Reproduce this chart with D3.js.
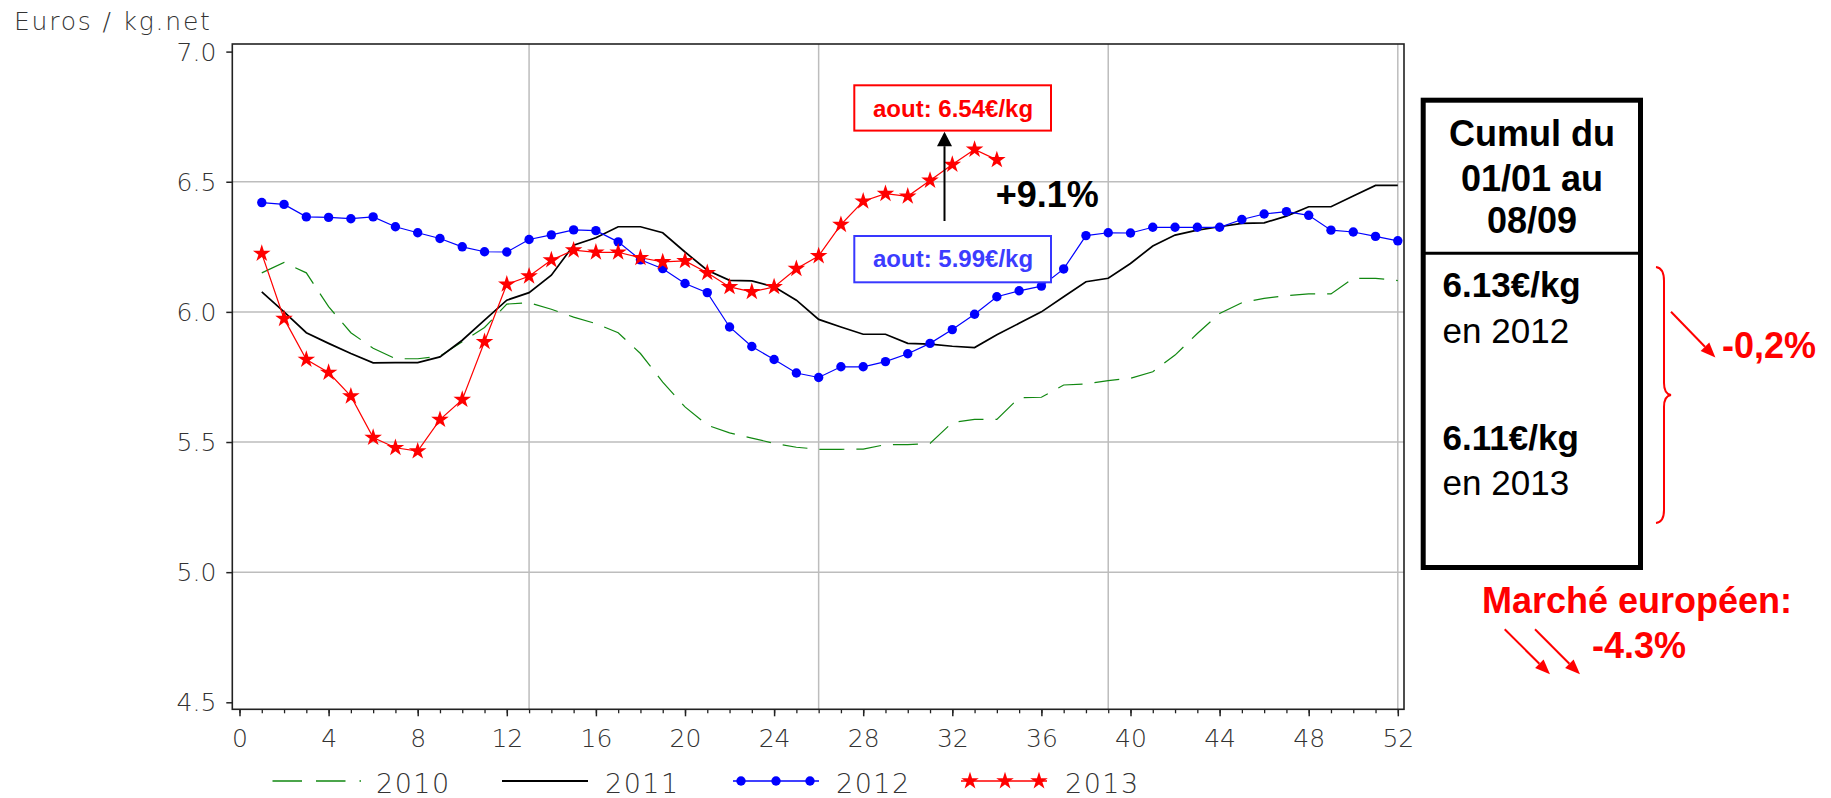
<!DOCTYPE html>
<html>
<head>
<meta charset="utf-8">
<script src="https://cdn.jsdelivr.net/npm/d3@7"></script>
<style>
  body { margin: 0; background: #fff; }
  svg { display: block; }
  .thin { font-family: "DejaVu Sans", sans-serif; font-weight: 200; fill: #333; }
  .arial { font-family: "Liberation Sans", Arial, sans-serif; }
</style>
</head>
<body>
<svg id="chart" width="1831" height="798"></svg>
<script>
// week numbers (x categories)
const weeks = d3.range(1, 53);

// weekly prices, euros / kg net
const y2010 = [6.15, 6.19, 6.15, 6.02, 5.92, 5.86, 5.82, 5.82, 5.83, 5.885,
  5.94, 6.03, 6.035, 6.01, 5.98, 5.955, 5.92, 5.84, 5.73, 5.635,
  5.565, 5.535, 5.515, 5.495, 5.48, 5.472, 5.472, 5.473, 5.49, 5.49,
  5.495, 5.575, 5.587, 5.587, 5.67, 5.672, 5.719, 5.723, 5.736, 5.745,
  5.77, 5.834, 5.917, 5.994, 6.035, 6.052, 6.062, 6.069, 6.069, 6.129,
  6.129, 6.12];
const y2011 = [6.077, 6.0, 5.92, 5.879, 5.84, 5.804, 5.805, 5.805, 5.827, 5.891,
  5.968, 6.045, 6.074, 6.141, 6.256, 6.285, 6.327, 6.327, 6.304, 6.23,
  6.16, 6.121, 6.119, 6.096, 6.045, 5.971, 5.942, 5.914, 5.914, 5.879,
  5.876, 5.868, 5.863, 5.912, 5.956, 6.0, 6.058, 6.116, 6.129, 6.186,
  6.253, 6.295, 6.314, 6.327, 6.34, 6.342, 6.368, 6.404, 6.404, 6.445,
  6.486, 6.486];
const y2012 = [6.42, 6.413, 6.365, 6.363, 6.358, 6.365, 6.327, 6.304, 6.282, 6.25,
  6.231, 6.23, 6.278, 6.296, 6.315, 6.312, 6.269, 6.2, 6.166, 6.109,
  6.074, 5.942, 5.867, 5.817, 5.765, 5.748, 5.789, 5.789, 5.809, 5.839,
  5.879, 5.932, 5.991, 6.058, 6.081, 6.099, 6.165, 6.293, 6.304, 6.303,
  6.325, 6.325, 6.325, 6.325, 6.355, 6.376, 6.385, 6.371, 6.314, 6.307,
  6.29, 6.273];
const y2013 = [6.224, 5.974, 5.817, 5.767, 5.676, 5.517, 5.478, 5.465, 5.586, 5.663,
  5.885, 6.106, 6.137, 6.199, 6.237, 6.229, 6.229, 6.208, 6.192, 6.196,
  6.15, 6.096, 6.077, 6.096, 6.166, 6.215, 6.335, 6.425, 6.454, 6.444,
  6.505, 6.566, 6.624, 6.584];

const seriesNames = ["2010", "2011", "2012", "2013"];

// axis ticks
const yTicks = [4.5, 5.0, 5.5, 6.0, 6.5, 7.0];
const yGrid = [5.0, 5.5, 6.0, 6.5];
const xTicks = [0, 4, 8, 12, 16, 20, 24, 28, 32, 36, 40, 44, 48, 52];
const xGrid = [13, 26, 39, 52];

const svg = d3.select("#chart");

// plot frame in pixels
const plotLeft = 232.3, plotRight = 1404, plotTop = 44, plotBottom = 709.3;

const x = d3.scaleLinear().domain([0, 52]).range([239.5, 1397.8]);
const y = d3.scaleLinear().domain([4.5, 7.0]).range([702.3, 51.6]);

// grid
const grid = svg.append("g").attr("stroke", "#bdbdbd").attr("stroke-width", 1.5);
grid.selectAll(".gy").data(yGrid).join("line").attr("class", "gy")
  .attr("x1", plotLeft).attr("x2", plotRight)
  .attr("y1", d => y(d)).attr("y2", d => y(d));
grid.selectAll(".gx").data(xGrid).join("line").attr("class", "gx")
  .attr("y1", plotTop).attr("y2", plotBottom)
  .attr("x1", d => x(d)).attr("x2", d => x(d));

// frame
svg.append("rect")
  .attr("x", plotLeft).attr("y", plotTop)
  .attr("width", plotRight - plotLeft).attr("height", plotBottom - plotTop)
  .attr("fill", "none").attr("stroke", "#222").attr("stroke-width", 1.6);

// y axis
const yAxis = svg.append("g")
  .attr("transform", `translate(${plotLeft},0)`)
  .call(d3.axisLeft(y).tickValues(yTicks).tickFormat(d3.format(".1f")).tickSize(6).tickPadding(10));
yAxis.select(".domain").remove();
yAxis.selectAll("line").attr("stroke", "#222").attr("stroke-width", 1.5);
yAxis.selectAll("text").attr("class", "thin").attr("font-size", 25).attr("dy", "0.34em");

// x axis: minor ticks each week, labelled ticks each 4 weeks
const xMinor = svg.append("g")
  .attr("transform", `translate(0,${plotBottom})`)
  .call(d3.axisBottom(x).tickValues(weeks.concat([0])).tickFormat("").tickSize(4));
xMinor.select(".domain").remove();
xMinor.selectAll("line").attr("stroke", "#222").attr("stroke-width", 1.3);

const xAxis = svg.append("g")
  .attr("transform", `translate(0,${plotBottom})`)
  .call(d3.axisBottom(x).tickValues(xTicks).tickFormat(d3.format("d")).tickSize(7).tickPadding(13));
xAxis.select(".domain").remove();
xAxis.selectAll("line").attr("stroke", "#222").attr("stroke-width", 1.5);
xAxis.selectAll("text").attr("class", "thin").attr("font-size", 25);

// y axis title
svg.append("text").attr("class", "thin")
  .attr("x", 14).attr("y", 30)
  .attr("font-size", 25).attr("letter-spacing", 1.8)
  .text("Euros / kg.net");

// lines
const line = d3.line().x((d, i) => x(weeks[i])).y(d => y(d));

svg.append("path").datum(y2010)
  .attr("fill", "none").attr("stroke", "#118811").attr("stroke-width", 1.2)
  .attr("stroke-dasharray", "25,12").attr("d", line);

svg.append("path").datum(y2011)
  .attr("fill", "none").attr("stroke", "#000").attr("stroke-width", 1.7)
  .attr("d", line);

svg.append("path").datum(y2012)
  .attr("fill", "none").attr("stroke", "#0000ff").attr("stroke-width", 1.2)
  .attr("d", line);
svg.append("g").selectAll("circle").data(y2012).join("circle")
  .attr("cx", (d, i) => x(weeks[i])).attr("cy", d => y(d))
  .attr("r", 4.7).attr("fill", "#0000ff");

const star = d3.symbol().type(d3.symbolStar).size(96);

svg.append("path").datum(y2013)
  .attr("fill", "none").attr("stroke", "#ff0000").attr("stroke-width", 1.2)
  .attr("d", line);
svg.append("g").selectAll("path").data(y2013).join("path")
  .attr("transform", (d, i) => `translate(${x(weeks[i])},${y(d)})`)
  .attr("d", star).attr("fill", "#ff0000");

// legend
const legY = 781, legText = 793;
const leg = svg.append("g");
leg.append("line").attr("x1", 272.5).attr("x2", 361).attr("y1", legY).attr("y2", legY)
  .attr("stroke", "#118811").attr("stroke-width", 1.3).attr("stroke-dasharray", "29.5,14");
leg.append("line").attr("x1", 502).attr("x2", 588).attr("y1", legY).attr("y2", legY)
  .attr("stroke", "#000").attr("stroke-width", 2);
leg.append("line").attr("x1", 733).attr("x2", 819).attr("y1", legY).attr("y2", legY)
  .attr("stroke", "#0000ff").attr("stroke-width", 1.3);
leg.selectAll(".ld").data([741, 776, 810]).join("circle").attr("class", "ld")
  .attr("cx", d => d).attr("cy", legY).attr("r", 4.7).attr("fill", "#0000ff");
leg.append("line").attr("x1", 961).attr("x2", 1047).attr("y1", legY).attr("y2", legY)
  .attr("stroke", "#ff0000").attr("stroke-width", 1.3);
leg.selectAll(".ls").data([970, 1005, 1039]).join("path").attr("class", "ls")
  .attr("transform", d => `translate(${d},${legY})`).attr("d", star).attr("fill", "#ff0000");
leg.selectAll(".lt").data([376, 605, 836, 1065]).join("text").attr("class", "lt thin")
  .attr("font-size", 27).attr("letter-spacing", 1.5)
  .attr("x", d => d).attr("y", legText)
  .text((d, i) => seriesNames[i]);

// annotation boxes on the plot
const ann = svg.append("g").attr("class", "arial").attr("font-weight", "bold");
ann.append("rect").attr("x", 854.3).attr("y", 85.3).attr("width", 196.7).attr("height", 45.3)
  .attr("fill", "#fff").attr("stroke", "#ff0000").attr("stroke-width", 2);
ann.append("text").attr("x", 873).attr("y", 116.7).attr("font-size", 24).attr("fill", "#ff0000")
  .text("aout: 6.54€/kg");
ann.append("rect").attr("x", 854.3).attr("y", 236).attr("width", 196.7).attr("height", 46.3)
  .attr("fill", "#fff").attr("stroke", "#3838ff").attr("stroke-width", 2);
ann.append("text").attr("x", 873).attr("y", 266.7).attr("font-size", 24).attr("fill", "#3c3cff")
  .text("aout: 5.99€/kg");

function arrow(g, x1, y1, x2, y2, color, width, headLen, headW) {
  const a = Math.atan2(y2 - y1, x2 - x1);
  const bx = x2 - headLen * Math.cos(a), by = y2 - headLen * Math.sin(a);
  g.append("line").attr("x1", x1).attr("y1", y1).attr("x2", bx).attr("y2", by)
    .attr("stroke", color).attr("stroke-width", width);
  const px = Math.sin(a) * headW / 2, py = -Math.cos(a) * headW / 2;
  g.append("polygon")
    .attr("points", `${x2},${y2} ${bx + px},${by + py} ${bx - px},${by - py}`)
    .attr("fill", color);
}

arrow(ann, 944.5, 221, 944.5, 131.7, "#000", 2, 14.5, 15);
ann.append("text").attr("x", 995.7).attr("y", 206.7).attr("font-size", 36).attr("fill", "#000")
  .text("+9.1%");

// summary box on the right
const box = svg.append("g").attr("class", "arial");
box.append("rect").attr("x", 1423.2).attr("y", 100.2).attr("width", 217.3).attr("height", 467.3)
  .attr("fill", "none").attr("stroke", "#000").attr("stroke-width", 5);
box.append("line").attr("x1", 1423).attr("x2", 1641).attr("y1", 253.3).attr("y2", 253.3)
  .attr("stroke", "#000").attr("stroke-width", 3);
box.selectAll(".hd").data(["Cumul du", "01/01 au", "08/09"]).join("text").attr("class", "hd")
  .attr("x", 1532).attr("y", (d, i) => [145.7, 190.7, 233.3][i])
  .attr("text-anchor", "middle").attr("font-size", 36).attr("font-weight", "bold")
  .text(d => d);
box.append("text").attr("x", 1442.6).attr("y", 296.7).attr("font-size", 35).attr("font-weight", "bold").text("6.13€/kg");
box.append("text").attr("x", 1442.6).attr("y", 343.3).attr("font-size", 35).text("en 2012");
box.append("text").attr("x", 1442.6).attr("y", 450).attr("font-size", 35).attr("font-weight", "bold").text("6.11€/kg");
box.append("text").attr("x", 1442.6).attr("y", 495).attr("font-size", 35).text("en 2013");

// red brace and comparison notes
const notes = svg.append("g").attr("class", "arial").attr("font-weight", "bold");
notes.append("path")
  .attr("d", "M1656,267 Q1664,268 1664,281 L1664,383 Q1664,394 1671,395 Q1664,396 1664,407 L1664,510 Q1664,522 1656,523")
  .attr("fill", "none").attr("stroke", "#ff0000").attr("stroke-width", 2);
arrow(notes, 1671, 311.7, 1715.4, 357.5, "#ff0000", 2, 15, 12);
notes.append("text").attr("x", 1722).attr("y", 358.3).attr("font-size", 36).attr("fill", "#ff0000").text("-0,2%");
notes.append("text").attr("x", 1482).attr("y", 613.3).attr("font-size", 36).attr("fill", "#ff0000").text("Marché européen:");
notes.append("text").attr("x", 1592).attr("y", 658.3).attr("font-size", 36).attr("fill", "#ff0000").text("-4.3%");
arrow(notes, 1504.7, 629.3, 1550, 674.3, "#ff0000", 2, 15, 12);
arrow(notes, 1535, 629.3, 1580, 674.3, "#ff0000", 2, 15, 12);
</script>
</body>
</html>
